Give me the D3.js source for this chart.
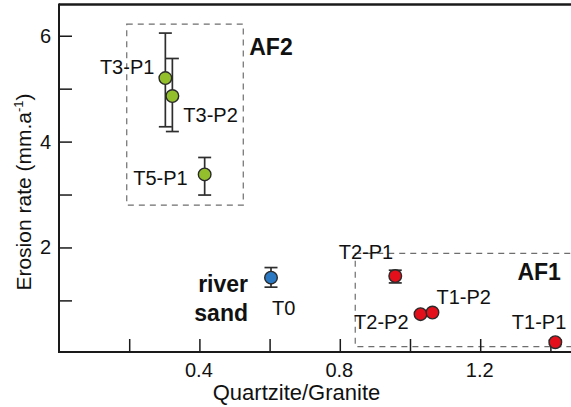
<!DOCTYPE html>
<html>
<head>
<meta charset="utf-8">
<script src="https://cdn.jsdelivr.net/npm/d3@7"></script>
<style>
  html, body { margin: 0; padding: 0; background: #fff; }
  svg { display: block; font-family: "Liberation Sans", Arial, Helvetica, sans-serif; }
</style>
</head>
<body>
<svg id="chart" width="571" height="407"></svg>
<script>
// Samples: quartzite/granite ratio vs. erosion rate, with error ranges
const samples   = ["T3-P1", "T3-P2", "T5-P1", "T0", "T2-P1", "T2-P2", "T1-P2", "T1-P1"];
const ratio     = [0.303, 0.323, 0.415, 0.604, 0.958, 1.030, 1.064, 1.414];
const erosion   = [5.20, 4.86, 3.38, 1.43, 1.46, 0.74, 0.77, 0.21];
const errLow    = [4.28, 4.19, 2.99, 1.25, 1.33, 0.71, 0.74, 0.17];
const errHigh   = [6.05, 5.57, 3.70, 1.62, 1.57, 0.77, 0.80, 0.25];
const group     = ["AF2", "AF2", "AF2", "river", "AF1", "AF1", "AF1", "AF1"];

// Grouping boxes (data coordinates)
const boxNames  = ["AF2", "AF1"];
const boxX0     = [0.193, 0.844];
const boxX1     = [0.525, 1.60];
const boxY0     = [2.80, 0.125];
const boxY1     = [6.22, 1.89];

// Axis ticks
const xTicks      = [0.2, 0.4, 0.6, 0.8, 1.0, 1.2, 1.4];
const xTickLabels = ["", "0.4", "", "0.8", "", "1.2", ""];
const yTicks      = [1, 2, 3, 4, 5, 6];
const yTickLabels = ["", "2", "", "4", "", "6"];

const colors = { AF2: "#93bf2d", river: "#2b78c2", AF1: "#e3101b" };

// Label placement around each point
const labelPlace = {
  "T3-P1": { dx: -11, dy: -4,  anchor: "end" },
  "T3-P2": { dx: 11,  dy: 26,  anchor: "start" },
  "T5-P1": { dx: -17, dy: 11,  anchor: "end" },
  "T0":    { dx: 1,   dy: 37,  anchor: "start" },
  "T2-P1": { dx: -2,  dy: -17, anchor: "end" },
  "T2-P2": { dx: -12, dy: 15,  anchor: "end" },
  "T1-P2": { dx: 4,   dy: -9,  anchor: "start" },
  "T1-P1": { dx: 11,  dy: -13, anchor: "end" }
};

const svg = d3.select("#chart");
const plotLeft = 59, plotRight = 571, plotTop = 4.5, plotBottom = 352;

const x = d3.scaleLinear().domain([0, 1.4587]).range([plotLeft, plotRight]);
const y = d3.scaleLinear().domain([0.025, 6.59]).range([plotBottom, plotTop]);

const axisColor = "#1a1a1a";

// Dashed group boxes
const boxes = boxNames.map((n, i) => ({ n, x0: boxX0[i], x1: boxX1[i], y0: boxY0[i], y1: boxY1[i] }));
svg.append("g").selectAll("rect").data(boxes).join("rect")
  .attr("x", d => x(d.x0))
  .attr("y", d => y(d.y1))
  .attr("width", d => x(d.x1) - x(d.x0))
  .attr("height", d => y(d.y0) - y(d.y1))
  .attr("fill", "none")
  .attr("stroke", "#6e6e6e")
  .attr("stroke-width", 1.2)
  .attr("stroke-dasharray", "6,5");

// Axes with inward ticks
const xAxis = d3.axisBottom(x).tickValues(xTicks).tickSize(-13).tickFormat((d, i) => xTickLabels[i]);
const yAxis = d3.axisLeft(y).tickValues(yTicks).tickSize(-13).tickFormat((d, i) => yTickLabels[i]);

const gx = svg.append("g").attr("transform", `translate(0,${plotBottom})`).call(xAxis);
const gy = svg.append("g").attr("transform", `translate(${plotLeft},0)`).call(yAxis);

[gx, gy].forEach(g => {
  g.select(".domain").remove();
  g.selectAll(".tick line").attr("stroke", axisColor).attr("stroke-width", 1.5);
  g.selectAll(".tick text").attr("fill", "#111").attr("font-size", 20)
    .attr("font-family", "Liberation Sans, Arial, sans-serif");
});
gx.selectAll(".tick text").attr("dy", null).attr("y", 25).attr("dx", -1);
gy.selectAll(".tick text").attr("x", -8);

// Frame lines: left, bottom, top
svg.append("line").attr("x1", plotLeft).attr("x2", plotLeft).attr("y1", plotTop - 1).attr("y2", plotBottom + 1)
  .attr("stroke", axisColor).attr("stroke-width", 2);
svg.append("line").attr("x1", plotLeft).attr("x2", plotRight).attr("y1", plotBottom).attr("y2", plotBottom)
  .attr("stroke", axisColor).attr("stroke-width", 2);
svg.append("line").attr("x1", plotLeft).attr("x2", plotRight).attr("y1", plotTop).attr("y2", plotTop)
  .attr("stroke", axisColor).attr("stroke-width", 2.5);

// Axis titles
svg.append("text")
  .attr("x", 296.5).attr("y", 400)
  .attr("text-anchor", "middle").attr("font-size", 22).attr("fill", "#111")
  .text("Quartzite/Granite");

const yt = svg.append("text")
  .attr("transform", "translate(31,192) rotate(-90)")
  .attr("text-anchor", "middle").attr("font-size", 21).attr("fill", "#111");
yt.append("tspan").text("Erosion rate (mm.a");
yt.append("tspan").attr("dy", -8).attr("font-size", 13).text("-1");
yt.append("tspan").attr("dy", 8).text(")");

// Points data
const pts = samples.map((s, i) => ({
  s, x: ratio[i], y: erosion[i], lo: errLow[i], hi: errHigh[i], g: group[i]
}));

// Error bars
const eb = svg.append("g").selectAll("g").data(pts).join("g")
  .attr("stroke", "#2e2e2e").attr("stroke-width", 1.7);
eb.append("line").attr("x1", d => x(d.x)).attr("x2", d => x(d.x))
  .attr("y1", d => y(d.lo)).attr("y2", d => y(d.hi));
eb.append("line").attr("x1", d => x(d.x) - 6.5).attr("x2", d => x(d.x) + 6.5)
  .attr("y1", d => y(d.lo)).attr("y2", d => y(d.lo));
eb.append("line").attr("x1", d => x(d.x) - 6.5).attr("x2", d => x(d.x) + 6.5)
  .attr("y1", d => y(d.hi)).attr("y2", d => y(d.hi));

// Points
svg.append("g").selectAll("circle").data(pts).join("circle")
  .attr("cx", d => x(d.x)).attr("cy", d => y(d.y)).attr("r", 6.3)
  .attr("fill", d => colors[d.g]).attr("stroke", "#2a2a2a").attr("stroke-width", 1.4);

// Sample labels
svg.append("g").selectAll("text").data(pts).join("text")
  .attr("x", d => x(d.x) + labelPlace[d.s].dx)
  .attr("y", d => y(d.y) + labelPlace[d.s].dy)
  .attr("text-anchor", d => labelPlace[d.s].anchor)
  .attr("font-size", 20).attr("fill", "#111")
  .text(d => d.s);

// Group annotations
svg.append("text").attr("x", x(0.542)).attr("y", y(5.64))
  .attr("font-size", 23).attr("font-weight", "bold").attr("fill", "#111").text("AF2");
svg.append("text").attr("x", x(1.306)).attr("y", y(1.385))
  .attr("font-size", 23).attr("font-weight", "bold").attr("fill", "#111").text("AF1");
const rs = svg.append("text").attr("text-anchor", "end")
  .attr("font-size", 23).attr("font-weight", "bold").attr("fill", "#111");
rs.append("tspan").attr("x", 248).attr("y", 292).text("river");
rs.append("tspan").attr("x", 248).attr("y", 321).text("sand");
</script>
</body>
</html>
